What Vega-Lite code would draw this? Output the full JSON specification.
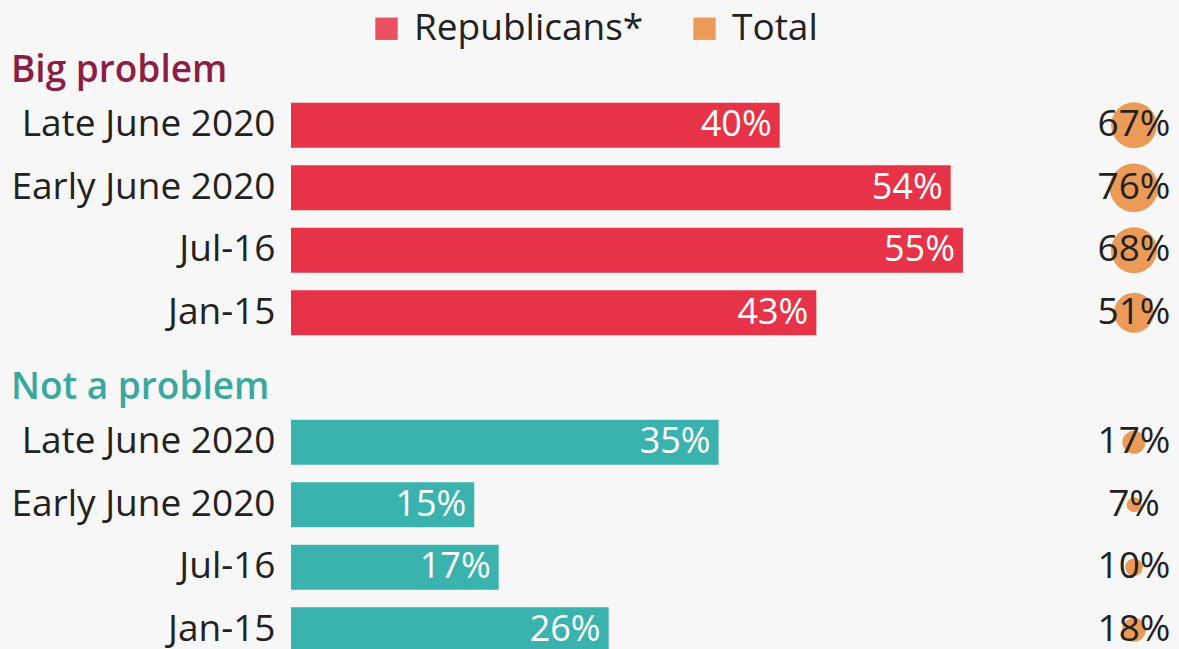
{
  "$schema": "https://vega.github.io/schema/vega-lite/v6.json",
  "background": "#f7f7f7",
  "padding": {"left": 10, "top": 10, "right": 0, "bottom": 0},
  "config": {"view": {"stroke": null}, "font": "Open Sans"},
  "datasets": {
    "rows": [
      {"group": "Big problem", "period": "Late June 2020", "rep": 0.40, "total": 0.67},
      {"group": "Big problem", "period": "Early June 2020", "rep": 0.54, "total": 0.76},
      {"group": "Big problem", "period": "Jul-16", "rep": 0.55, "total": 0.68},
      {"group": "Big problem", "period": "Jan-15", "rep": 0.43, "total": 0.51},
      {"group": "Not a problem", "period": "Late June 2020", "rep": 0.35, "total": 0.17},
      {"group": "Not a problem", "period": "Early June 2020", "rep": 0.15, "total": 0.07},
      {"group": "Not a problem", "period": "Jul-16", "rep": 0.17, "total": 0.10},
      {"group": "Not a problem", "period": "Jan-15", "rep": 0.26, "total": 0.18}
    ]
  },
  "data": {"name": "rows"},
  "spacing": 25,
  "resolve": {"scale": {"color": "shared", "size": "shared"}},
  "vconcat": [
    {
      "bounds": "flush",
      "spacing": 60,
      "hconcat": [
        {
          "title": {"text": "Big problem", "anchor": "start", "frame": "bounds", "color": "#8b1e45", "fontSize": 37, "fontWeight": 600, "offset": 4},
          "width": 733,
          "height": 250,
          "transform": [{"filter": "datum.group === 'Big problem'"}],
          "encoding": {
            "y": {"field": "period", "type": "nominal", "sort": null, "scale": {"paddingInner": 0.28, "paddingOuter": 0.14},
                  "axis": {"title": null, "domain": false, "ticks": false, "labelFontSize": 37, "labelColor": "#222222", "labelPadding": 16, "labelLimit": 500}},
            "x": {"field": "rep", "type": "quantitative", "scale": {"domain": [0, 0.6]}, "axis": null}
          },
          "layer": [
            {
              "mark": {"type": "bar"},
              "encoding": {
                "color": {"datum": "Republicans*", "type": "nominal",
                          "scale": {"domain": ["Republicans*", "Total"], "range": ["#e63347", "#ea8a3c"]},
                          "legend": {"orient": "none", "legendX": 77, "legendY": -84, "direction": "horizontal", "title": null, "labelFontSize": 37, "labelLimit": 500, "labelColor": "#222222", "symbolType": "square", "symbolSize": 500, "symbolOpacity": 1, "columnPadding": 42, "labelOffset": 9}}
              }
            },
            {
              "mark": {"type": "text", "align": "right", "dx": -8, "color": "#ffffff", "fontSize": 36},
              "encoding": {"text": {"field": "rep", "type": "quantitative", "format": ".0%"}}
            }
          ]
        },
        {
          "width": 100,
          "height": 250,
          "transform": [{"filter": "datum.group === 'Big problem'"}],
          "encoding": {
            "y": {"field": "period", "type": "nominal", "sort": null, "scale": {"paddingInner": 0.28, "paddingOuter": 0.14}, "axis": null}
          },
          "layer": [
            {
              "mark": {"type": "circle", "opacity": 0.85},
              "encoding": {
                "size": {"field": "total", "type": "quantitative", "scale": {"domain": [0, 0.8], "range": [0, 2500]}, "legend": null},
                "color": {"datum": "Total", "type": "nominal"}
              }
            },
            {
              "mark": {"type": "text", "fontSize": 37, "color": "#222222"},
              "encoding": {"text": {"field": "total", "type": "quantitative", "format": ".0%"}}
            }
          ]
        }
      ]
    },
    {
      "bounds": "flush",
      "spacing": 60,
      "hconcat": [
        {
          "title": {"text": "Not a problem", "anchor": "start", "frame": "bounds", "color": "#3aa89f", "fontSize": 37, "fontWeight": 600, "offset": 4},
          "width": 733,
          "height": 250,
          "transform": [{"filter": "datum.group === 'Not a problem'"}],
          "encoding": {
            "y": {"field": "period", "type": "nominal", "sort": null, "scale": {"paddingInner": 0.28, "paddingOuter": 0.14},
                  "axis": {"title": null, "domain": false, "ticks": false, "labelFontSize": 37, "labelColor": "#222222", "labelPadding": 16, "labelLimit": 500}},
            "x": {"field": "rep", "type": "quantitative", "scale": {"domain": [0, 0.6]}, "axis": null}
          },
          "layer": [
            {"mark": {"type": "bar", "color": "#3ab3ae"}},
            {
              "mark": {"type": "text", "align": "right", "dx": -8, "color": "#ffffff", "fontSize": 36},
              "encoding": {"text": {"field": "rep", "type": "quantitative", "format": ".0%"}}
            }
          ]
        },
        {
          "width": 100,
          "height": 250,
          "transform": [{"filter": "datum.group === 'Not a problem'"}],
          "encoding": {
            "y": {"field": "period", "type": "nominal", "sort": null, "scale": {"paddingInner": 0.28, "paddingOuter": 0.14}, "axis": null}
          },
          "layer": [
            {
              "mark": {"type": "circle", "opacity": 0.85},
              "encoding": {
                "size": {"field": "total", "type": "quantitative", "scale": {"domain": [0, 0.8], "range": [0, 2500]}, "legend": null},
                "color": {"datum": "Total", "type": "nominal"}
              }
            },
            {
              "mark": {"type": "text", "fontSize": 37, "color": "#222222"},
              "encoding": {"text": {"field": "total", "type": "quantitative", "format": ".0%"}}
            }
          ]
        }
      ]
    }
  ]
}
